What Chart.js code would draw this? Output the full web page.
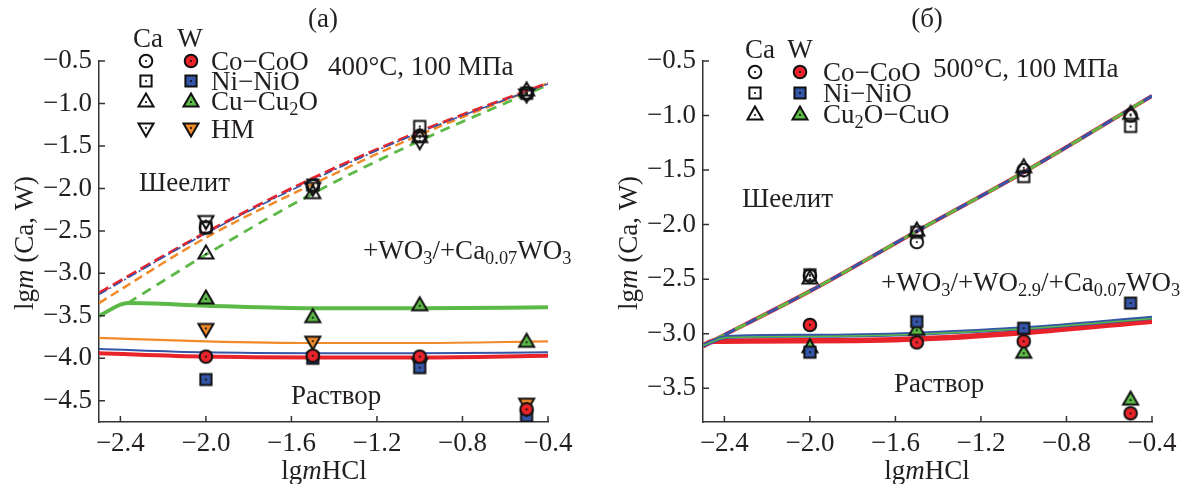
<!DOCTYPE html>
<html>
<head>
<meta charset="utf-8">
<script src="https://cdn.jsdelivr.net/npm/chart.js@4.4.1/dist/chart.umd.min.js"></script>
<style>
  body { margin: 0; background: #fff; }
  #wrap { position: relative; width: 1202px; height: 484px; }
  .panel { position: absolute; top: 0; height: 484px; }
  #pa { left: 0; width: 600px; }
  #pb { left: 600px; width: 602px; }
</style>
</head>
<body>
<div id="wrap">
  <div class="panel" id="pa"><canvas id="chartA"></canvas></div>
  <div class="panel" id="pb"><canvas id="chartB"></canvas></div>
</div>
<script>
// оси
const xTicks = [-2.4, -2.0, -1.6, -1.2, -0.8, -0.4];
const yTicksA = [-0.5, -1.0, -1.5, -2.0, -2.5, -3.0, -3.5, -4.0, -4.5];
const yTicksB = [-0.5, -1.0, -1.5, -2.0, -2.5, -3.0, -3.5];
const expX = [-2.0, -1.5, -1.0, -0.5];

// (а) 400°C, 100 МПа — эксперимент
const caCoA = [-2.46, -1.97, -1.38, -0.88];
const caNiA = [-2.46, -1.96, -1.27, -0.88];
const caCuA = [-2.76, -2.05, -1.39, -0.84];
const caHMA = [-2.39, -2.00, -1.45, -0.90];
const wCoA = [-3.98, -3.97, -3.98, -4.60];
const wNiA = [-4.25, -4.00, -4.11, -4.68];
const wCuA = [-3.29, -3.51, -3.37, -3.80];
const wHMA = [-3.66, -3.81, -4.07, -4.54];

// (а) расчет
const lineXA = [-2.5, -2.0, -1.5, -1.0, -0.4];
const caLineCoA = [-3.23, -2.52, -1.88, -1.33, -0.76];
const caLineNiA = [-3.25, -2.53, -1.90, -1.34, -0.77];
const caLineHMA = [-3.35, -2.58, -1.95, -1.37, -0.76];
const caLineCuXA = [-2.365, -2.0, -1.5, -1.0, -0.4];
const caLineCuA = [-3.35, -2.78, -2.06, -1.44, -0.78];
const wLineCoA = [-3.94, -3.98, -3.99, -3.99, -3.97];
const wLineNiA = [-3.89, -3.93, -3.94, -3.94, -3.93];
const wLineHMA = [-3.76, -3.80, -3.82, -3.82, -3.80];
const wLineCuXA = [-2.5, -2.365, -2.0, -1.5, -1.0, -0.4];
const wLineCuA = [-3.50, -3.35, -3.38, -3.41, -3.41, -3.40];

// (б) 500°C, 100 МПа — эксперимент
const caCoB = [-2.47, -2.16, -1.50, -1.00];
const caNiB = [-2.46, -2.07, -1.56, -1.10];
const caCuB = [-2.49, -2.05, -1.47, -0.98];
const wCoB = [-2.92, -3.08, -3.07, -3.73];
const wNiB = [-3.17, -2.89, -2.95, -2.72];
const wCuB = [-3.12, -2.96, -3.17, -3.60];

// (б) расчет
const lineXB = [-2.5, -2.0, -1.5, -1.0, -0.4];
const caLineB = [-3.11, -2.61, -2.06, -1.52, -0.82];
const wLineXB = [-2.5, -2.39, -2.0, -1.5, -1.0, -0.4];
const wLineNiB = [-3.11, -3.03, -3.02, -3.00, -2.95, -2.855];
const wLineCuB = [-3.11, -3.035, -3.025, -3.005, -2.955, -2.86];
const wLineCoXB = [-2.5, -2.45, -2.0, -1.5, -1.0, -0.4];
const wLineCoB = [-3.11, -3.07, -3.065, -3.05, -2.99, -2.885];

const RED = '#e8232a', BLUE = '#3556a8', GREEN = '#5cb947', ORANGE = '#f08a2a';
const INK = '#231f20';
const FONT = "'Liberation Serif', 'Times New Roman', serif";

Chart.defaults.font.family = FONT;
Chart.defaults.font.size = 27;
Chart.defaults.color = INK;

function pts(xs, ys) {
  return xs.map((x, i) => ({ x: x, y: ys[i] }));
}

// маркеры
function marker(shape, fill) {
  const s = 20;
  const c = document.createElement('canvas');
  c.width = s; c.height = s;
  const g = c.getContext('2d');
  const m = s / 2;
  let dy = 0;
  g.beginPath();
  if (shape === 'circle') {
    g.arc(m, m, 6.3, 0, 2 * Math.PI);
  } else if (shape === 'rect') {
    g.rect(m - 5.6, m - 5.6, 11.2, 11.2);
  } else if (shape === 'tri') {
    g.moveTo(m, m - 7.5); g.lineTo(m + 7.5, m + 5.5); g.lineTo(m - 7.5, m + 5.5); g.closePath();
    dy = 1;
  } else {
    g.moveTo(m, m + 7.5); g.lineTo(m + 7.5, m - 5.5); g.lineTo(m - 7.5, m - 5.5); g.closePath();
    dy = -1;
  }
  if (fill) { g.fillStyle = fill; g.fill(); }
  g.lineWidth = 2;
  g.strokeStyle = '#111';
  g.lineJoin = 'miter';
  g.stroke();
  g.beginPath();
  g.arc(m, m + dy, 1.1, 0, 2 * Math.PI);
  g.fillStyle = '#111';
  g.fill();
  return c;
}

const mk = {
  hCircle: marker('circle', null), fCircle: marker('circle', RED),
  hRect: marker('rect', null), fRect: marker('rect', BLUE),
  hTri: marker('tri', null), fTri: marker('tri', GREEN),
  hTriD: marker('tridown', null), fTriD: marker('tridown', ORANGE)
};

function pointSet(ys, style) {
  return { data: pts(expX, ys), showLine: false, pointStyle: style, pointRadius: 7, order: 0 };
}

function lineSet(xs, ys, color, width, dash, order, dashOff) {
  return {
    data: pts(xs, ys), showLine: true, borderColor: color, borderWidth: width,
    borderDash: dash || [], borderDashOffset: dashOff || 0, pointRadius: 0, fill: false,
    cubicInterpolationMode: 'monotone', order: order || 2
  };
}

// текст с индексами и курсивом
function richWidth(ctx, parts, size) {
  let w = 0;
  parts.forEach(p => {
    const fs = p.sub ? size * 0.68 : size;
    ctx.font = (p.it ? 'italic ' : '') + fs + 'px ' + FONT;
    w += ctx.measureText(p.t).width;
  });
  return w;
}

function rich(ctx, x, y, parts, size, align) {
  size = size || 27;
  let cx = x;
  if (align === 'center') cx = x - richWidth(ctx, parts, size) / 2;
  const base = y + size * 0.33;
  ctx.fillStyle = INK;
  ctx.textAlign = 'left';
  ctx.textBaseline = 'alphabetic';
  parts.forEach(p => {
    const fs = p.sub ? size * 0.68 : size;
    ctx.font = (p.it ? 'italic ' : '') + fs + 'px ' + FONT;
    ctx.fillText(p.t, cx, base + (p.sub ? size * 0.2 : 0));
    cx += ctx.measureText(p.t).width;
  });
}

function T(s) { return { t: s }; }
function S(s) { return { t: s, sub: true }; }
function I(s) { return { t: s, it: true }; }

function drawAxisTitles(ctx, yx, xx) {
  ctx.save();
  ctx.translate(yx, 243);
  ctx.rotate(-Math.PI / 2);
  rich(ctx, 0, 0, [T('lg'), I('m'), T(' (Ca, W)')], 27, 'center');
  ctx.restore();
  rich(ctx, xx, 470, [T('lg'), I('m'), T('HCl')], 27, 'center');
}

function drawInnerTicks(chart) {
  const { ctx, chartArea: a, scales } = chart;
  ctx.save();
  ctx.strokeStyle = '#333';
  ctx.lineWidth = 1.5;
  ctx.beginPath();
  scales.x.ticks.forEach(t => {
    const px = scales.x.getPixelForValue(t.value);
    ctx.moveTo(px, a.bottom); ctx.lineTo(px, a.bottom - 6);
  });
  scales.y.ticks.forEach(t => {
    const py = scales.y.getPixelForValue(t.value);
    ctx.moveTo(a.left, py); ctx.lineTo(a.left + 6, py);
  });
  ctx.stroke();
  ctx.restore();
}

function legendRows(ctx, hx, fx, lx, rows) {
  rows.forEach(r => {
    ctx.drawImage(r[0], hx - r[0].width / 2, r[3] - r[0].height / 2);
    ctx.drawImage(r[1], fx - r[1].width / 2, r[3] - r[1].height / 2);
    rich(ctx, lx, r[3], r[2], 27);
  });
}

const annotA = {
  id: 'annotA',
  afterDraw(chart) {
    const ctx = chart.ctx;
    drawInnerTicks(chart);
    ctx.save();
    rich(ctx, 323, 18, [T('(а)')], 27, 'center');
    rich(ctx, 148, 38, [T('Ca')], 27, 'center');
    rich(ctx, 190, 38, [T('W')], 27, 'center');
    legendRows(ctx, 146, 191, 211, [
      [mk.hCircle, mk.fCircle, [T('Co−CoO')], 61],
      [mk.hRect, mk.fRect, [T('Ni−NiO')], 81],
      [mk.hTri, mk.fTri, [T('Cu−Cu'), S('2'), T('O')], 101],
      [mk.hTriD, mk.fTriD, [T('НМ')], 129]
    ]);
    rich(ctx, 328, 66, [T('400°C, 100 МПа')], 27);
    rich(ctx, 139, 182, [T('Шеелит')], 27);
    rich(ctx, 363, 250, [T('+WO'), S('3'), T('/+Ca'), S('0.07'), T('WO'), S('3')], 27);
    rich(ctx, 291, 395, [T('Раствор')], 27);
    drawAxisTitles(ctx, 24, 324);
    ctx.restore();
  }
};

const annotB = {
  id: 'annotB',
  afterDraw(chart) {
    const ctx = chart.ctx;
    drawInnerTicks(chart);
    ctx.save();
    rich(ctx, 327, 18, [T('(б)')], 27, 'center');
    rich(ctx, 160, 49, [T('Ca')], 27, 'center');
    rich(ctx, 200, 49, [T('W')], 27, 'center');
    legendRows(ctx, 155, 200, 223, [
      [mk.hCircle, mk.fCircle, [T('Co−CoO')], 72],
      [mk.hRect, mk.fRect, [T('Ni−NiO')], 93],
      [mk.hTri, mk.fTri, [T('Cu'), S('2'), T('O−CuO')], 114]
    ]);
    rich(ctx, 333, 68, [T('500°C, 100 МПа')], 27);
    rich(ctx, 142, 198, [T('Шеелит')], 27);
    rich(ctx, 281, 282, [T('+WO'), S('3'), T('/+WO'), S('2.9'), T('/+Ca'), S('0.07'), T('WO'), S('3')], 27);
    rich(ctx, 294, 383, [T('Раствор')], 27);
    drawAxisTitles(ctx, 28, 327);
    ctx.restore();
  }
};

function fmt(v) {
  return (v < 0 ? '−' : '') + Math.abs(v).toFixed(1);
}

function options(yMin, yTicks, axisW, padRight) {
  const tickFont = { family: FONT, size: 27, style: 'normal' };
  return {
    responsive: true,
    maintainAspectRatio: false,
    animation: false,
    layout: { padding: { left: 0, right: padRight, top: 61, bottom: 0 } },
    plugins: { legend: { display: false }, tooltip: { enabled: false } },
    scales: {
      x: {
        type: 'linear', min: -2.5, max: -0.4,
        afterBuildTicks: s => { s.ticks = xTicks.map(v => ({ value: v })); },
        afterFit: s => { s.height = 62; },
        grid: { display: false, drawTicks: false },
        border: { display: true, color: '#333', width: 1.5 },
        ticks: { padding: 6, color: INK, font: tickFont, callback: v => fmt(v) }
      },
      y: {
        type: 'linear', min: yMin, max: -0.5,
        afterBuildTicks: s => { s.ticks = yTicks.map(v => ({ value: v })); },
        afterFit: s => { s.width = axisW; },
        grid: { display: false, drawTicks: false },
        border: { display: true, color: '#333', width: 1.5 },
        ticks: { padding: 7, color: INK, font: tickFont, callback: v => fmt(v) }
      }
    }
  };
}

new Chart(document.getElementById('chartA'), {
  type: 'scatter',
  data: {
    datasets: [
      pointSet(caCoA, mk.hCircle), pointSet(caNiA, mk.hRect),
      pointSet(caCuA, mk.hTri), pointSet(caHMA, mk.hTriD),
      pointSet(wCoA, mk.fCircle), pointSet(wNiA, mk.fRect),
      pointSet(wCuA, mk.fTri), pointSet(wHMA, mk.fTriD),
      lineSet(lineXA, caLineNiA, BLUE, 1.6, [9, 3, 2, 3], 2),
      lineSet(lineXA, caLineCoA, RED, 3, [11, 5], 3),
      lineSet(lineXA, caLineHMA, ORANGE, 2.5, [9, 5], 4),
      lineSet(caLineCuXA, caLineCuA, GREEN, 2.8, [10, 7], 5),
      lineSet(lineXA, wLineNiA, BLUE, 2, [], 3),
      lineSet(lineXA, wLineCoA, RED, 4, [], 4),
      lineSet(lineXA, wLineHMA, ORANGE, 2.2, [], 4),
      lineSet(wLineCuXA, wLineCuA, GREEN, 4, [], 4)
    ]
  },
  options: options(-4.75, yTicksA, 99, 52),
  plugins: [annotA]
});

new Chart(document.getElementById('chartB'), {
  type: 'scatter',
  data: {
    datasets: [
      pointSet(caCoB, mk.hCircle), pointSet(caNiB, mk.hRect), pointSet(caCuB, mk.hTri),
      pointSet(wCoB, mk.fCircle), pointSet(wNiB, mk.fRect), pointSet(wCuB, mk.fTri),
      lineSet(wLineXB, wLineCuB, GREEN, 1.5, [], 2),
      lineSet(wLineXB, wLineNiB, BLUE, 4, [], 3),
      lineSet(wLineCoXB, wLineCoB, RED, 5.5, [], 4),
      lineSet(lineXB, caLineB, GREEN, 3, [12, 12], 5, 12),
      lineSet(lineXB, caLineB, BLUE, 3, [12, 12], 6, 0),
      lineSet(lineXB, caLineB, RED, 4, [], 7)
    ]
  },
  options: options(-3.81, yTicksB, 103, 50),
  plugins: [annotB]
});
</script>
</body>
</html>
